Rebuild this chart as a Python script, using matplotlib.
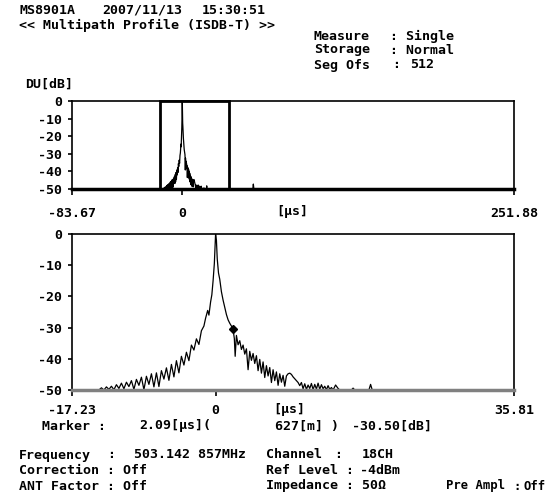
import matplotlib
matplotlib.use("Agg")
import matplotlib.pyplot as plt
from matplotlib.patches import Rectangle

plt.rcParams['font.family'] = ['DejaVu Sans Mono']
plt.rcParams['font.weight'] = 'bold'
plt.rcParams['axes.unicode_minus'] = False

# delay profile (us, dB)
delay_us = [-83.67, -17.23, -14.0, -13.7, -13.4, -13.1, -12.8, -12.5, -12.2, -11.9,
            -11.6, -11.3, -11.0, -10.7, -10.4, -10.1, -9.8, -9.5, -9.2, -8.9,
            -8.6, -8.3, -8.0, -7.7, -7.4, -7.1, -6.8, -6.5, -6.2, -5.9,
            -5.6, -5.3, -5.0, -4.7, -4.4, -4.1, -3.8, -3.5, -3.2, -2.9,
            -2.6, -2.3, -2.0, -1.7, -1.4, -1.2, -0.95, -0.8, -0.6, -0.45,
            -0.3, -0.15, 0.0, 0.1, 0.2, 0.35, 0.5, 0.7, 0.9, 1.1,
            1.3, 1.5, 1.7, 1.9, 2.09, 2.25, 2.35, 2.5, 2.7, 2.9,
            3.1, 3.3, 3.5, 3.7, 3.9, 4.1, 4.3, 4.5, 4.7, 4.9,
            5.1, 5.3, 5.5, 5.7, 5.9, 6.1, 6.3, 6.5, 6.7, 6.9,
            7.1, 7.3, 7.5, 7.7, 7.9, 8.1, 8.3, 8.5, 8.7, 8.9,
            9.1, 9.3, 9.5, 9.7, 9.9, 10.1, 10.3, 10.5, 10.7, 10.9,
            11.1, 11.3, 11.5, 11.7, 11.9, 12.1, 12.3, 12.5, 12.7, 12.9,
            13.1, 13.3, 13.5, 13.7, 13.9, 14.1, 14.4, 14.7, 14.9, 16.3,
            16.5, 16.7, 18.4, 18.6, 18.8, 53.6, 54.0, 54.4, 251.88]
du_db = [-50.0, -50.0, -50.0, -49.3, -50.0, -49.0, -49.8, -48.8, -49.9, -48.3,
         -49.5, -47.8, -49.6, -47.5, -48.9, -47.0, -49.8, -46.6, -48.5, -45.9,
         -49.9, -45.6, -48.2, -44.8, -49.0, -44.5, -48.9, -43.8, -46.5, -42.9,
         -46.9, -41.8, -45.8, -40.6, -44.5, -39.2, -42.0, -37.9, -40.6, -35.6,
         -37.2, -33.6, -35.4, -31.0, -29.5, -27.0, -24.5, -26.0, -21.8, -19.5,
         -15.0, -9.5, 0.0, -2.0, -8.0, -12.5, -14.5, -18.5, -21.2, -23.5,
         -25.8, -27.5, -28.6, -29.5, -30.5, -33.5, -39.2, -32.5, -35.5, -34.2,
         -37.0, -35.6, -38.5, -36.8, -43.5, -37.6, -40.5, -38.3, -41.5, -39.0,
         -43.8, -40.2, -44.6, -41.0, -46.0, -42.2, -45.5, -42.8, -47.6, -43.5,
         -47.0, -44.2, -48.5, -44.8, -47.5, -45.3, -48.8, -45.5, -44.8, -44.6,
         -45.0, -45.8, -46.4, -47.0, -47.6, -48.6, -47.6, -49.6, -48.0, -49.8,
         -48.4, -49.5, -47.9, -49.9, -48.2, -49.7, -47.8, -49.8, -48.3, -49.6,
         -48.8, -49.9, -48.6, -49.8, -49.2, -50.0, -48.4, -49.5, -50.0, -50.0,
         -49.4, -50.0, -50.0, -48.2, -50.0, -50.0, -47.2, -50.0, -50.0]

marker_us = 2.09
marker_db = -30.50

full_range = (-83.67, 251.88)
zoom_range = (-17.23, 35.81)
y_ticks = [0, -10, -20, -30, -40, -50]

W, H = 551, 503
fig = plt.figure(figsize=(W / 100, H / 100), dpi=100)
fs = 9.5


def txt(x, y, s, ha='left', size=fs):
    fig.text(x / W, 1 - y / H, s, fontsize=size, ha=ha, va='center')


def style(ax, xr, bottom_color, pad):
    ax.set_xlim(*xr)
    ax.set_ylim(-50, 0)
    ax.set_yticks(y_ticks)
    ax.set_xticks([xr[0], 0, xr[1]])
    ax.set_xticklabels(["%.2f" % xr[0], "0", "%.2f" % xr[1]])
    ax.tick_params(axis='y', direction='out', length=3, width=1.2, pad=4, labelsize=fs)
    ax.tick_params(axis='x', direction='out', length=4, width=1.2, pad=pad, labelsize=fs)
    for s in ['top', 'left', 'right']:
        ax.spines[s].set_linewidth(1.2)
    ax.spines['bottom'].set_linewidth(2.5)
    ax.spines['bottom'].set_color(bottom_color)


# upper panel: whole range
ax1 = fig.add_axes([72 / W, 1 - 189 / H, 442 / W, 88 / H])
ax1.plot(delay_us, du_db, color='black', lw=0.9)
ax1.add_patch(Rectangle((zoom_range[0], -50), zoom_range[1] - zoom_range[0], 50,
                        fill=False, lw=2, ec='black', clip_on=False))
style(ax1, full_range, 'black', 9)
txt(292, 212, "[µs]", ha='center')

# lower panel: zoomed
ax2 = fig.add_axes([72 / W, 1 - 390 / H, 442 / W, 156 / H])
ax2.plot(delay_us, du_db, color='black', lw=0.9)
ax2.plot([marker_us], [marker_db], marker='D', ms=4.5, color='black')
style(ax2, zoom_range, '#808080', 6)
txt(289, 410, "[µs]", ha='center')

# header
txt(19, 10, "MS8901A")
txt(102, 10, "2007/11/13")
txt(202, 10, "15:30:51")
txt(19, 25, "<< Multipath Profile (ISDB-T) >>")
txt(314, 36, "Measure")
txt(390, 36, ": Single")
txt(314, 50, "Storage")
txt(390, 50, ": Normal")
txt(314, 65, "Seg Ofs")
txt(392, 65, ":")
txt(410, 65, "512")
txt(25, 84, "DU[dB]")

# marker readout
txt(42, 426, "Marker :")
txt(139, 426, "2.09[µs](")
txt(275, 426, "627[m] )")
txt(352, 426, "-30.50[dB]")

# footer
txt(19, 455, "Frequency")
txt(107, 455, ":")
txt(134, 455, "503.142 857MHz")
txt(266, 455, "Channel")
txt(334, 455, ":")
txt(362, 455, "18CH")
txt(19, 470, "Correction : Off")
txt(266, 470, "Ref Level :")
txt(360, 470, "-4dBm")
txt(19, 486, "ANT Factor : Off")
txt(266, 486, "Impedance : 50Ω")
txt(446, 486, "Pre Ampl", size=8.8)
txt(513, 486, ":", size=8.8)
txt(524, 486, "Off", size=8.8)

fig.savefig("out.png", dpi=100)
